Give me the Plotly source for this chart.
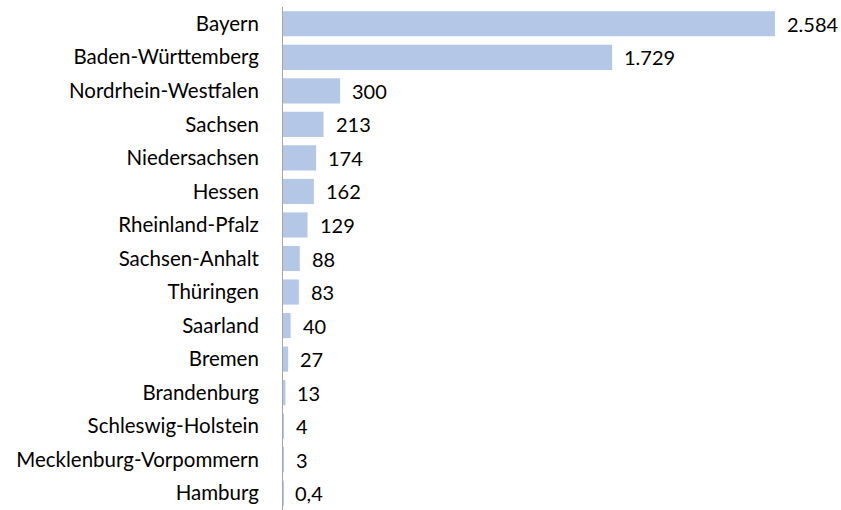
import plotly.graph_objects as go

states = ["Bayern", "Baden-Württemberg", "Nordrhein-Westfalen", "Sachsen",
          "Niedersachsen", "Hessen", "Rheinland-Pfalz", "Sachsen-Anhalt",
          "Thüringen", "Saarland", "Bremen", "Brandenburg",
          "Schleswig-Holstein", "Mecklenburg-Vorpommern", "Hamburg"]
values = [2584, 1729, 300, 213, 174, 162, 129, 88, 83, 40, 27, 13, 4, 3, 0.4]


def de_format(v):
    if v == int(v):
        return f"{int(v):,}".replace(",", ".")
    return f"{v:.1f}".replace(".", ",")


labels = [de_format(v) for v in values]

fig = go.Figure(go.Bar(
    x=values, y=states, orientation="h",
    marker=dict(color="#b4c7e7", line=dict(width=0)),
    hoverinfo="skip",
))

for s, v, t in zip(states, values, labels):
    fig.add_annotation(x=v, y=s, text=t, showarrow=False, xanchor="left",
                       xshift=10, font=dict(size=20, color="#000000"))

fig.update_layout(
    width=841, height=510,
    margin=dict(l=283, r=44, t=7, b=0),
    paper_bgcolor="white", plot_bgcolor="white",
    bargap=0.25,
    font=dict(family="Lato", size=20.5, color="#000000"),
    showlegend=False,
    xaxis=dict(range=[0, 2700], visible=False),
    yaxis=dict(autorange="reversed", showline=True, linecolor="#a6a6a6",
               linewidth=1, ticks="", showgrid=False,
               ticklabelstandoff=19, zeroline=False),
)

fig.write_html("out.html")
